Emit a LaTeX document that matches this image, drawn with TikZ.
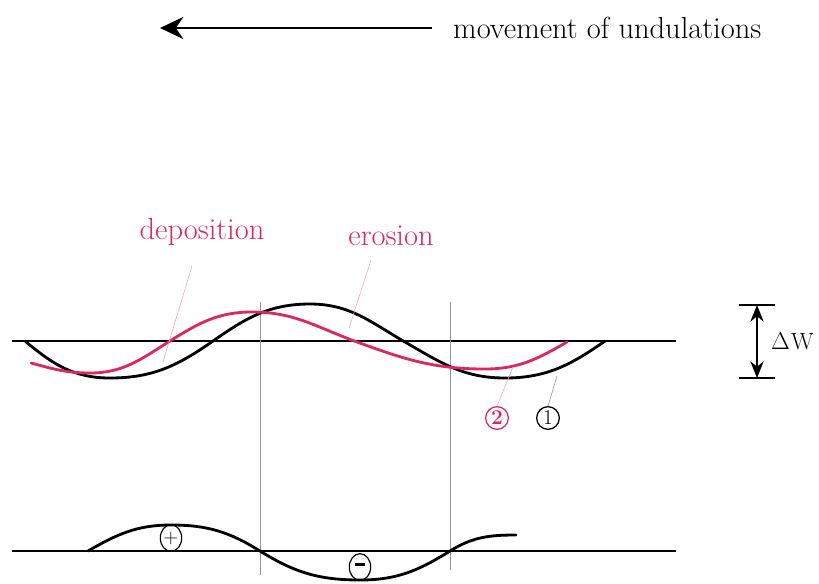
\documentclass[tikz,border=0pt]{standalone}
\usepackage{tikz}
\usetikzlibrary{arrows.meta, shapes.geometric, positioning, calc}
\definecolor{erosred}{RGB}{220, 40, 95}
\definecolor{leaderpink}{RGB}{238, 165, 185}
\definecolor{guidegray}{RGB}{150, 150, 150}
\tikzset{
	profile/.style={line width=2.4pt, line join=round, line cap=round},
	levelline/.style={line width=1.9pt},
	guide/.style={guidegray, line width=0.6pt},
	leader/.style={leaderpink, line width=0.5pt},
	lbl/.style={font=\fontsize{26}{30}\selectfont, inner sep=0pt},
	numcirc/.style={circle, draw, line width=1.1pt, inner sep=0pt, minimum size=0.68cm,
		font=\fontsize{18}{20}\selectfont},
	signoval/.style={ellipse, draw, line width=1pt, inner sep=0pt, minimum width=0.64cm,
		minimum height=0.8cm, font=\fontsize{18}{20}\selectfont}
}

\begin{document}
\begin{tikzpicture}[x=0.03cm, y=-0.03cm]
	\useasboundingbox (0,0) rectangle (819,583);
	% direction of movement
	\node[lbl, anchor=west] (movtxt) at (453,28) {movement of undulations};
	\coordinate (arrtail) at (432,28);
	\coordinate (arrhead) at (160,28);
	\draw[line width=1.8pt, -{Stealth[length=0.7cm, width=0.66cm]}] (arrtail) -- (arrhead);

	% upper level line and guides
	\draw[levelline] (12,341) -- (676,341);
	\draw[guide] (260,302) -- (260,575);
	\draw[guide] (450,302) -- (450,570);

	% profile 1 (black)
	\draw[profile] (25,341) to[out=-40, in=180] (110,378)
		to[out=0, in=215] (213,341) to[out=35, in=180] (310,304)
		to[out=0, in=150] (405,342) to[out=-30, in=180] (505,378)
		to[out=0, in=215] (605,341);
	% profile 2 (red)
	\draw[profile, erosred] (31,363) to[out=-15, in=180] (90,373)
		to[out=0, in=212] (170,341) to[out=32, in=180] (252,312)
		to[out=0, in=160] (357,342) to[out=-20, in=180] (485,369)
		to[out=0, in=210] (567,342);

	% labels and leaders
	\node[lbl, erosred] (deptxt) at (202,232) {deposition};
	\node[lbl, erosred] (erotxt) at (391,236) {erosion};
	\coordinate (deptop) at (192,266);
	\coordinate (depbot) at (163,362);
	\coordinate (erotop) at (371,260);
	\coordinate (erobot) at (349,328);
	\draw[leader] (deptop) -- (depbot);
	\draw[leader] (erotop) -- (erobot);

	\node[numcirc, erosred, font=\fontsize{18}{20}\selectfont\bfseries] (two) at (497,418) {2};
	\node[numcirc] (one) at (548,418) {1};
	\coordinate (twoon) at (513,367);
	\coordinate (oneon) at (557,376);
	\draw[leader] (twoon) -- (two.north);
	\draw[leader, guidegray] (oneon) -- (one.north);

	% height difference
	\coordinate (dwtop) at (757,305);
	\coordinate (dwbot) at (757,378);
	\draw[line width=1.1pt] (739,305) -- (775,305);
	\draw[line width=1.1pt] (739,378) -- (775,378);
	\draw[line width=1.1pt, {Stealth[length=0.5cm, width=0.4cm]}-{Stealth[length=0.5cm, width=0.4cm]}] (dwtop) -- (dwbot);
	\node[lbl, anchor=west, font=\fontsize{20}{24}\selectfont] (dwtxt) at (771,341) {$\Delta$\hspace{1pt}W};

	% lower level line
	\draw[levelline] (12,551) -- (676,551);
	\draw[profile] (88,551) to[out=30, in=180] (171,525)
		to[out=0, in=148] (260,551) to[out=-32, in=180] (360,580)
		to[out=0, in=212] (450,551) to[out=32, in=180] (516,535);
	\node[signoval] (plus) at (171,538) {$+$};
	\node[signoval] (minus) at (360,567) {\rule[0.25em]{0.45em}{2.4pt}};
\end{tikzpicture}
\end{document}
